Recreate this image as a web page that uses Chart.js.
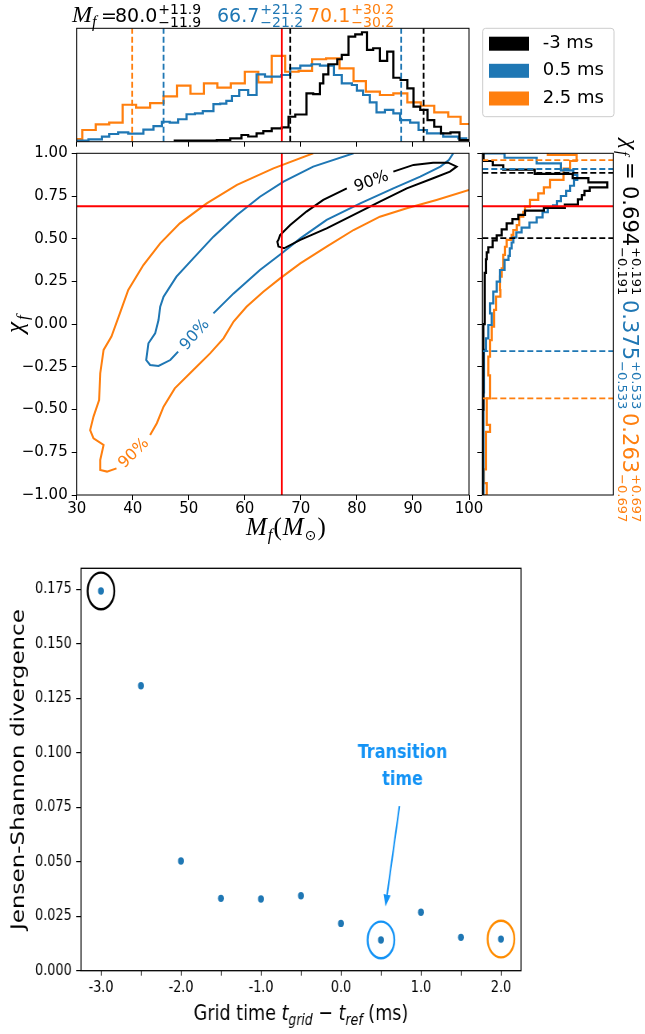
<!DOCTYPE html>
<html>
<head>
<meta charset="utf-8">
<script src="https://cdn.jsdelivr.net/npm/chart.js@4.4.0/dist/chart.umd.min.js"></script>
<style>
  body { margin: 0; background: #fff; }
  #page { position: relative; width: 645px; height: 1034px; overflow: hidden; }
  canvas { position: absolute; }
</style>
</head>
<body>
<div id="page">
  <canvas id="mainChart" width="500" height="420" style="left:0;top:130px"></canvas>
  <canvas id="rightHist" width="175" height="400" style="left:470px;top:130px"></canvas>
  <canvas id="topHist" width="645" height="150" style="left:0;top:0"></canvas>
  <canvas id="jsdChart" width="806" height="494" style="left:0;top:540px;transform:scaleX(0.8);transform-origin:0 0"></canvas>
</div>
<script>
// series: -3 ms, 0.5 ms, 2.5 ms
const seriesLabels = ['-3 ms', '0.5 ms', '2.5 ms'];
const seriesColors = ['#000000', '#1f77b4', '#ff7f0e'];

// summary numbers (median +/- error)
const mfMedian = [80.0, 66.7, 70.1];
const mfErr = [11.9, 21.2, 30.2];
const chiMedian = [0.694, 0.375, 0.263];
const chiErr = [0.191, 0.533, 0.697];
const mfTrue = 66.6;
const chiTrue = 0.69;

// M_f marginal histograms: bin edges and heights (% of panel height)
const mfEdgesBlack = [47.5, 55.0, 57.4, 59.4, 60.6, 62.1, 63.3, 64.8, 66.6, 67.8, 69.0, 71.0, 72.2, 73.4, 74.0, 74.9, 76.5, 77.3, 78.5, 79.7, 80.9, 81.8, 82.9, 84.1, 85.4, 86.5, 87.8, 89.0, 90.1, 91.3, 92.6, 93.8, 95.0, 96.7, 98.3, 100.5];
const mfHeightsBlack = [0.9, 1.5, 3.0, 5.9, 4.6, 7.4, 9.4, 11.8, 12.7, 22.0, 24.0, 42.7, 42.0, 51.5, 59.4, 68.3, 72.7, 76.5, 92.6, 94.7, 96.5, 80.9, 82.4, 71.2, 79.4, 56.4, 54.4, 47.1, 30.9, 28.0, 19.1, 13.2, 7.4, 8.3, 1.5];
const mfEdgesBlue = [29.0, 32.1, 34.5, 35.8, 37.4, 39.2, 41.9, 43.7, 45.2, 46.6, 48.1, 49.6, 51.1, 52.5, 54.4, 55.6, 56.7, 57.7, 59.0, 60.6, 62.1, 63.6, 66.5, 68.1, 69.9, 71.9, 73.4, 75.9, 77.3, 79.1, 80.0, 81.1, 82.3, 83.5, 85.0, 86.5, 87.7, 89.5, 91.0, 92.5, 95.4, 98.1, 99.5, 100.5];
const mfHeightsBlue = [0.9, 2.1, 4.4, 6.8, 8.3, 7.2, 10.6, 13.8, 17.6, 16.8, 19.8, 24.2, 25.0, 27.0, 33.2, 33.5, 36.0, 40.3, 45.6, 41.2, 59.4, 57.3, 58.8, 64.7, 67.0, 68.3, 67.0, 58.8, 51.5, 50.0, 45.0, 41.2, 34.7, 25.9, 28.0, 25.0, 19.1, 16.8, 10.3, 7.4, 4.4, 3.0, 1.5];
const mfEdgesOrange = [28.6, 31.0, 33.4, 35.8, 38.2, 40.6, 43.1, 45.5, 47.9, 50.3, 52.7, 55.1, 57.5, 60.0, 62.4, 64.8, 67.2, 69.6, 72.0, 74.5, 76.9, 79.4, 81.6, 84.1, 86.5, 89.0, 91.4, 93.8, 96.3, 98.5, 100.9];
const mfHeightsOrange = [2.4, 10.3, 15.3, 16.8, 32.6, 30.0, 34.1, 40.0, 49.4, 42.3, 51.5, 47.6, 51.5, 61.7, 52.4, 75.6, 61.7, 62.5, 72.7, 73.5, 64.7, 53.5, 44.1, 41.2, 42.7, 34.7, 31.7, 25.9, 22.0, 15.6];

// chi_f marginal histograms: bin edges and lengths (% of panel width)
const chiEdgesBlack = [-1.0, -0.5, 0.0, 0.2, 0.3, 0.38, 0.42, 0.45, 0.49, 0.52, 0.555, 0.59, 0.615, 0.64, 0.665, 0.68, 0.70, 0.73, 0.755, 0.78, 0.80, 0.83, 0.855, 0.88, 0.905, 0.93, 0.955, 1.0];
const chiHeightsBlack = [0.3, 0.8, 1.5, 2.0, 2.8, 3.4, 4.6, 7.9, 11, 14.8, 18.6, 23, 27.5, 32.6, 47, 63, 73, 76, 78, 82, 95.4, 81, 69, 40, 16, 8, 1];
const chiEdgesBlue = [-1.0, -0.7, -0.4, -0.151, -0.083, -0.005, 0.063, 0.122, 0.19, 0.249, 0.317, 0.376, 0.40, 0.444, 0.478, 0.508, 0.537, 0.565, 0.595, 0.625, 0.655, 0.68, 0.695, 0.72, 0.75, 0.78, 0.81, 0.845, 0.873, 0.90, 0.941, 0.974, 1.0];
const chiHeightsBlue = [0.8, 1.0, 1.3, 2.8, 4.6, 7.2, 5.9, 8.4, 11, 13.5, 17, 20, 21, 22.4, 23.7, 26, 30, 36, 41.5, 46, 50, 54, 57, 60, 64, 67, 70, 72.5, 69.5, 60, 41.5, 17];
const chiEdgesOrange = [-1.0, -0.93, -0.85, -0.63, -0.59, -0.434, -0.30, -0.19, -0.093, -0.015, 0.083, 0.161, 0.20, 0.278, 0.327, 0.405, 0.453, 0.493, 0.522, 0.551, 0.58, 0.629, 0.658, 0.688, 0.727, 0.766, 0.80, 0.845, 0.91, 0.955, 0.99, 1.02];
const chiHeightsOrange = [3.4, 1.3, 2.8, 5.9, 3.4, 5.9, 4.6, 5.9, 7.2, 9.0, 10.5, 13.8, 13.5, 14.8, 16, 17.3, 18.6, 22.4, 23.7, 26.3, 28.2, 31.3, 32.6, 36.4, 42.7, 47, 51.7, 62, 67, 72, 50];

// 90% contours [M_f, chi_f], split where the label sits
const contourBlack = [[78.2,0.795],[74.0,0.727],[71.0,0.659],[68.1,0.580],[66.3,0.522],[66.0,0.493],[65.8,0.483],[66.0,0.454],[67.0,0.444],[69.9,0.493],[74.6,0.561],[79.4,0.639],[84.1,0.717],[88.9,0.795],[93.6,0.854],[96.6,0.893],[97.8,0.922],[96.3,0.945],[93.6,0.945],[90.1,0.932],[86.5,0.893]];
const contourBlueA = [[79.4,1.0],[72.2,0.922],[66.9,0.834],[62.7,0.746],[58.6,0.639],[54.4,0.512],[50.8,0.385],[47.8,0.278],[45.5,0.161],[44.9,0.102],[44.6,0.024],[44.0,-0.054],[42.8,-0.112],[42.4,-0.210],[43.1,-0.239],[44.6,-0.245],[46.7,-0.210],[48.1,-0.161]];
const contourBlueB = [[54.4,0.063],[58.0,0.180],[62.7,0.317],[66.6,0.415],[69.9,0.502],[74.6,0.610],[80.6,0.707],[86.5,0.795],[91.3,0.863],[94.9,0.922],[96.4,0.961],[97.2,1.0]];
const contourOrangeA = [[72.2,1.0],[65.1,0.912],[58.6,0.815],[53.2,0.707],[48.4,0.590],[44.9,0.473],[41.9,0.346],[39.2,0.200],[37.7,0.063],[36.2,-0.073],[34.8,-0.151],[34.2,-0.288],[34.0,-0.444],[33.0,-0.541],[32.4,-0.620],[33.0,-0.668],[34.8,-0.707],[34.2,-0.795],[34.2,-0.854],[35.4,-0.863],[37.1,-0.844]];
const contourOrangeB = [[43.1,-0.649],[44.3,-0.580],[45.5,-0.483],[47.5,-0.376],[50.8,-0.268],[53.8,-0.171],[56.2,-0.083],[58.0,0.015],[60.3,0.102],[63.3,0.190],[66.3,0.268],[69.9,0.356],[74.6,0.454],[79.4,0.551],[84.1,0.629],[88.9,0.678],[94.2,0.727],[100.0,0.785]];
// contour label: [M_f, chi_f, angle deg]
const contourLabels = [[82.6, 0.834, -20], [51.1, -0.063, -48], [40.2, -0.756, -45]];

// Jensen-Shannon divergence vs grid time
const gridTimes = [-3.0, -2.5, -2.0, -1.5, -1.0, -0.5, 0.0, 0.5, 1.0, 1.5, 2.0];
const jsDivergence = [0.1742, 0.1307, 0.0503, 0.0332, 0.0329, 0.0344, 0.0217, 0.0141, 0.0268, 0.0153, 0.0145];
const timeTicks = [-3.0, -2.5, -2.0, -1.5, -1.0, -0.5, 0.0, 0.5, 1.0, 1.5, 2.0];
const ringTimes = [-3.0, 0.5, 2.0];
const ringColors = ['#000000', '#1493f5', '#ff8c00'];
const arrowFrom = [0.731, 0.0755];
const arrowTo = [0.556, 0.0294];

const SANS = 'DejaVu Sans';
const SERIF = 'Liberation Serif';
Chart.defaults.font.family = SANS;
Chart.defaults.color = '#000';

const pts = arr => arr.map(([x, y]) => ({x, y}));
function stepsAlongX(edges, h) {
  const out = [{x: edges[0], y: 0}];
  h.forEach((v, i) => out.push({x: edges[i], y: v}, {x: edges[i + 1], y: v}));
  out.push({x: edges[edges.length - 1], y: 0});
  return out;
}
function stepsAlongY(edges, h) {
  const out = [{x: 0, y: edges[0]}];
  h.forEach((v, i) => out.push({x: v, y: edges[i]}, {x: v, y: edges[i + 1]}));
  out.push({x: 0, y: edges[edges.length - 1]});
  return out;
}
function lineSet(data, color, width, dash) {
  return {data, showLine: true, borderColor: color, borderWidth: width, borderDash: dash || [],
          pointRadius: 0, fill: false, tension: 0};
}
const minus = s => s.replace('-', '\u2212');

const framePlugin = {
  id: 'frame',
  afterDatasetsDraw(chart, args, opts) {
    const {ctx, chartArea: a} = chart;
    ctx.save();
    ctx.strokeStyle = '#000';
    ctx.lineWidth = opts.width || 1;
    ctx.strokeRect(a.left, a.top, a.right - a.left, a.bottom - a.top);
    ctx.restore();
  }
};

function drawValue(ctx, x, y, main, err, digits, color, mainFont, smallFont, up, down) {
  ctx.fillStyle = color;
  ctx.font = mainFont;
  ctx.fillText(main, x, y);
  const x2 = x + ctx.measureText(main).width + 1;
  ctx.font = smallFont;
  ctx.fillText('+' + err.toFixed(digits), x2, y - up);
  ctx.fillText('\u2212' + err.toFixed(digits), x2, y + down);
}

function fixedAxis(extra, size, horizontal) {
  return Object.assign({
    border: {display: false},
    grid: {drawOnChartArea: false, drawTicks: true, tickLength: 5, color: '#000', lineWidth: 1},
    afterFit: s => { if (horizontal) s.height = size; else s.width = size; }
  }, extra);
}

// ---------- top marginal (M_f) ----------
const topDatasets = [lineSet([{x: mfTrue, y: 0}, {x: mfTrue, y: 100}], '#ff0000', 1.8)];
mfMedian.forEach((m, i) => {
  [m - mfErr[i], m + mfErr[i]].forEach(v =>
    topDatasets.push(lineSet([{x: v, y: 0}, {x: v, y: 100}], seriesColors[i], 1.8, [6, 3])));
});
topDatasets.push(lineSet(stepsAlongX(mfEdgesBlack, mfHeightsBlack), seriesColors[0], 2.2));
topDatasets.push(lineSet(stepsAlongX(mfEdgesBlue, mfHeightsBlue), seriesColors[1], 2.2));
topDatasets.push(lineSet(stepsAlongX(mfEdgesOrange, mfHeightsOrange), seriesColors[2], 2.2));

const topTextPlugin = {
  id: 'topText',
  afterDraw(chart) {
    const ctx = chart.ctx;
    ctx.save();
    ctx.textBaseline = 'alphabetic';
    ctx.textAlign = 'left';
    ctx.fillStyle = '#000';
    ctx.font = `italic 24px ${SERIF}`;
    ctx.fillText('M', 72, 22);
    ctx.font = `italic 16px ${SERIF}`;
    ctx.fillText('f', 92, 27);
    ctx.font = `19px ${SANS}`;
    ctx.fillText('=', 101, 22);
    const xs = [115, 217, 308];
    mfMedian.forEach((m, i) => drawValue(ctx, xs[i], 22, m.toFixed(1), mfErr[i], 1, seriesColors[i],
      `19px ${SANS}`, `14px ${SANS}`, 8, 5));
    // legend
    const bx = 482.7, by = 28.3, bw = 131.3, bh = 88.4;
    ctx.beginPath();
    ctx.roundRect(bx, by, bw, bh, 3);
    ctx.fillStyle = 'rgba(255,255,255,0.8)';
    ctx.fill();
    ctx.strokeStyle = '#cccccc';
    ctx.lineWidth = 1;
    ctx.stroke();
    const rows = [43.7, 70.8, 98.5];
    ctx.font = `18px ${SANS}`;
    ctx.textBaseline = 'middle';
    seriesLabels.forEach((t, i) => {
      ctx.fillStyle = seriesColors[i];
      ctx.fillRect(489, rows[i] - 7, 40, 14);
      ctx.fillStyle = '#000';
      ctx.fillText(t, 542.7, rows[i]);
    });
    ctx.restore();
  }
};

new Chart(document.getElementById('topHist'), {
  type: 'scatter',
  data: {datasets: topDatasets},
  options: {
    responsive: false, animation: false, devicePixelRatio: 1,
    layout: {padding: {left: 76.7, right: 176, top: 28.3, bottom: 0}},
    plugins: {legend: {display: false}, tooltip: {enabled: false}, frame: {width: 1}},
    scales: {
      x: fixedAxis({type: 'linear', min: 30, max: 100,
        ticks: {stepSize: 10, callback: () => '', autoSkip: false, maxRotation: 0, padding: 0}}, 8.3, true),
      y: {display: false, min: 0, max: 100}
    }
  },
  plugins: [framePlugin, topTextPlugin]
});

// ---------- main contour panel ----------
const mainDatasets = [
  lineSet([{x: mfTrue, y: -1}, {x: mfTrue, y: 1}], '#ff0000', 1.8),
  lineSet([{x: 30, y: chiTrue}, {x: 100, y: chiTrue}], '#ff0000', 1.8),
  lineSet(pts(contourBlack), seriesColors[0], 2),
  lineSet(pts(contourBlueA), seriesColors[1], 2),
  lineSet(pts(contourBlueB), seriesColors[1], 2),
  lineSet(pts(contourOrangeA), seriesColors[2], 2),
  lineSet(pts(contourOrangeB), seriesColors[2], 2)
];

const mainTextPlugin = {
  id: 'mainText',
  afterDraw(chart) {
    const {ctx, scales} = chart;
    ctx.save();
    // contour labels
    ctx.font = `16px ${SANS}`;
    ctx.textAlign = 'center';
    ctx.textBaseline = 'middle';
    contourLabels.forEach(([m, c, ang], i) => {
      ctx.save();
      ctx.translate(scales.x.getPixelForValue(m), scales.y.getPixelForValue(c));
      ctx.rotate(ang * Math.PI / 180);
      ctx.fillStyle = seriesColors[i];
      ctx.fillText('90%', 0, 0);
      ctx.restore();
    });
    // x title  M_f(M_sun)
    ctx.textAlign = 'left';
    ctx.textBaseline = 'alphabetic';
    ctx.fillStyle = '#000';
    let x = 246;
    const y = 405;
    const parts = [
      ['M', `italic 25px ${SERIF}`, 0], ['f', `italic 17px ${SERIF}`, 5], ['(', `25px ${SERIF}`, 0],
      ['M', `italic 25px ${SERIF}`, 0], ['\u2299', `14px ${SANS}`, 5], [')', `25px ${SERIF}`, 0]
    ];
    parts.forEach(([t, f, dy]) => { ctx.font = f; ctx.fillText(t, x, y + dy); x += ctx.measureText(t).width + 1; });
    // y title chi_f
    ctx.translate(23, 193);
    ctx.rotate(-Math.PI / 2);
    ctx.font = `italic 25px ${SERIF}`;
    ctx.fillText('\u03c7', -10, 0);
    ctx.font = `italic 17px ${SERIF}`;
    ctx.fillText('f', 3, 5);
    ctx.restore();
  }
};

new Chart(document.getElementById('mainChart'), {
  type: 'scatter',
  data: {datasets: mainDatasets},
  options: {
    responsive: false, animation: false, devicePixelRatio: 1,
    layout: {padding: {left: 14.7, right: 31, top: 23.3, bottom: 25}},
    plugins: {legend: {display: false}, tooltip: {enabled: false}, frame: {width: 1}},
    scales: {
      x: fixedAxis({type: 'linear', min: 30, max: 100,
        ticks: {stepSize: 10, autoSkip: false, maxRotation: 0, padding: 0, font: {size: 15}, color: '#000'}}, 30, true),
      y: fixedAxis({type: 'linear', min: -1, max: 1,
        ticks: {stepSize: 0.25, autoSkip: false, padding: 4, font: {size: 15}, color: '#000',
          callback: v => minus((Math.abs(v) < 1e-9 ? 0 : v).toFixed(2))}}, 62, false)
    }
  },
  plugins: [framePlugin, mainTextPlugin]
});

// ---------- right marginal (chi_f) ----------
const rightDatasets = [lineSet([{x: 0, y: chiTrue}, {x: 100, y: chiTrue}], '#ff0000', 1.8)];
chiMedian.forEach((m, i) => {
  [m - chiErr[i], m + chiErr[i]].forEach(v =>
    rightDatasets.push(lineSet([{x: 0, y: v}, {x: 100, y: v}], seriesColors[i], 1.8, [6, 3])));
});
rightDatasets.push(lineSet(stepsAlongY(chiEdgesBlack, chiHeightsBlack), seriesColors[0], 2.2));
rightDatasets.push(lineSet(stepsAlongY(chiEdgesBlue, chiHeightsBlue), seriesColors[1], 2.2));
rightDatasets.push(lineSet(stepsAlongY(chiEdgesOrange, chiHeightsOrange), seriesColors[2], 2.2));

const rightTextPlugin = {
  id: 'rightText',
  afterDraw(chart) {
    const ctx = chart.ctx;
    ctx.save();
    ctx.translate(153, 0);
    ctx.rotate(Math.PI / 2);
    ctx.textBaseline = 'alphabetic';
    ctx.textAlign = 'left';
    ctx.fillStyle = '#000';
    ctx.font = `italic 24px ${SERIF}`;
    ctx.fillText('\u03c7', 9, 0);
    ctx.font = `italic 16px ${SERIF}`;
    ctx.fillText('f', 21, 5);
    ctx.font = `21px ${SANS}`;
    ctx.fillText('=', 32, 0);
    const xs = [56, 170, 283];
    chiMedian.forEach((m, i) => drawValue(ctx, xs[i], 0, m.toFixed(3), chiErr[i], 3, seriesColors[i],
      `21px ${SANS}`, `13px ${SANS}`, 9, 5));
    ctx.restore();
  }
};

new Chart(document.getElementById('rightHist'), {
  type: 'scatter',
  data: {datasets: rightDatasets},
  options: {
    responsive: false, animation: false, devicePixelRatio: 1,
    layout: {padding: {left: 6.3, right: 31.7, top: 23.3, bottom: 35}},
    plugins: {legend: {display: false}, tooltip: {enabled: false}, frame: {width: 1}},
    scales: {
      x: {display: false, min: 0, max: 100},
      y: fixedAxis({type: 'linear', min: -1, max: 1,
        ticks: {stepSize: 0.25, autoSkip: false, padding: 0, callback: () => ''}}, 6, false)
    }
  },
  plugins: [framePlugin, rightTextPlugin]
});

// ---------- Jensen-Shannon divergence panel ----------
const jsdPlugin = {
  id: 'jsdNotes',
  afterDatasetsDraw(chart) {
    const {ctx, scales} = chart;
    const X = v => scales.x.getPixelForValue(v);
    const Y = v => scales.y.getPixelForValue(v);
    ctx.save();
    // rings
    ctx.lineWidth = 2.4;
    ringTimes.forEach((t, i) => {
      const k = gridTimes.indexOf(t);
      ctx.strokeStyle = ringColors[i];
      ctx.beginPath();
      ctx.ellipse(X(t), Y(jsDivergence[k]), 16.7, 18.3, 0, 0, Math.PI * 2);
      ctx.stroke();
    });
    // arrow
    const x0 = X(arrowFrom[0]), y0 = Y(arrowFrom[1]), x1 = X(arrowTo[0]), y1 = Y(arrowTo[1]);
    const ang = Math.atan2(y1 - y0, x1 - x0), hl = 12, hw = 4.5;
    ctx.strokeStyle = ringColors[1];
    ctx.fillStyle = ringColors[1];
    ctx.lineWidth = 2;
    ctx.beginPath();
    ctx.moveTo(x0, y0);
    ctx.lineTo(x1 - hl * Math.cos(ang), y1 - hl * Math.sin(ang));
    ctx.stroke();
    ctx.beginPath();
    ctx.moveTo(x1, y1);
    ctx.lineTo(x1 - hl * Math.cos(ang) + hw * Math.sin(ang), y1 - hl * Math.sin(ang) - hw * Math.cos(ang));
    ctx.lineTo(x1 - hl * Math.cos(ang) - hw * Math.sin(ang), y1 - hl * Math.sin(ang) + hw * Math.cos(ang));
    ctx.closePath();
    ctx.fill();
    ctx.font = `bold 20px ${SANS}`;
    ctx.textAlign = 'center';
    ctx.textBaseline = 'alphabetic';
    ctx.fillText('Transition', X(0.77), Y(0.0975));
    ctx.fillText('time', X(0.77), Y(0.0852));
    ctx.restore();
  },
  afterDraw(chart) {
    const {ctx, chartArea: a} = chart;
    ctx.save();
    ctx.fillStyle = '#000';
    ctx.textBaseline = 'alphabetic';
    ctx.textAlign = 'left';
    const big = `22px ${SANS}`, it = `italic 22px ${SANS}`, sub = `italic 15.5px ${SANS}`;
    const parts = [['Grid time ', big, 0], ['t', it, 0], ['grid', sub, 5], [' \u2212 ', big, 0],
                   ['t', it, 0], ['ref', sub, 5], [' (ms)', big, 0]];
    let w = 0;
    parts.forEach(([t, f]) => { ctx.font = f; w += ctx.measureText(t).width; });
    let x = (a.left + a.right) / 2 - w / 2;
    parts.forEach(([t, f, dy]) => { ctx.font = f; ctx.fillText(t, x, 480 + dy); x += ctx.measureText(t).width; });
    ctx.restore();
  }
};

new Chart(document.getElementById('jsdChart'), {
  type: 'scatter',
  data: {datasets: [{
    data: gridTimes.map((t, i) => ({x: t, y: jsDivergence[i]})),
    pointRadius: 3.7, pointBackgroundColor: '#1f77b4', pointBorderWidth: 0, showLine: false
  }]},
  options: {
    responsive: false, animation: false, devicePixelRatio: 1,
    layout: {padding: {left: 10.6, right: 154.75, top: 28.3, bottom: 23.3}},
    plugins: {legend: {display: false}, tooltip: {enabled: false}, frame: {width: 1.3}},
    scales: {
      x: fixedAxis({type: 'linear', min: -3.25, max: 2.25,
        afterBuildTicks: s => { s.ticks = timeTicks.map(v => ({value: v})); },
        ticks: {autoSkip: false, maxRotation: 0, padding: 3, font: {size: 16}, color: '#000',
          callback: v => Math.abs(v - Math.round(v)) < 1e-6 ? v.toFixed(1) : ''}}, 40, true),
      y: fixedAxis({type: 'linear', min: 0, max: 0.1846,
        title: {display: true, text: 'Jensen-Shannon divergence', font: {size: 23}, color: '#000', padding: 0},
        ticks: {stepSize: 0.025, includeBounds: false, autoSkip: false, padding: 5.6,
          font: {size: 16}, color: '#000', callback: v => v.toFixed(3)},
        grid: {drawOnChartArea: false, drawTicks: true, tickLength: 6, color: '#000', lineWidth: 1.2}}, 90.65, false)
    }
  },
  plugins: [framePlugin, jsdPlugin]
});
</script>
</body>
</html>
